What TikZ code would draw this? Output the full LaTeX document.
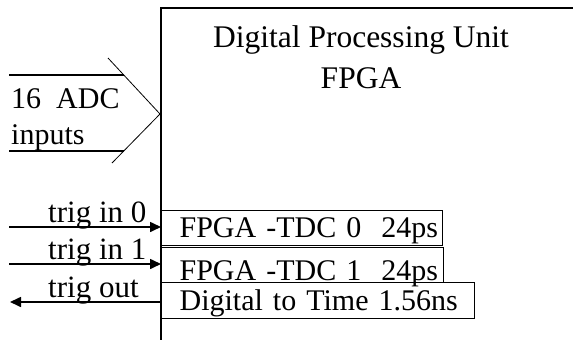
\documentclass[tikz,border=0pt]{standalone}
\usepackage{fontspec}
\setmainfont{Liberation Serif}
\usetikzlibrary{arrows.meta, positioning}

\begin{document}
\begin{tikzpicture}[
  x=1pt, y=-1pt,
  font=\fontsize{30}{36}\selectfont,
  inner sep=0pt,
  tdcbox/.style={draw, line width=1.2pt, anchor=north west, align=left},
  trig/.style={line width=1.6pt},
  triglabel/.style={anchor=base west, font=\fontsize{31}{36}\selectfont},
  >={Triangle[length=11pt,width=10pt]}]

  \useasboundingbox (0,0) rectangle (573,340);

  % the processing unit, cut off at the right and the bottom
  \draw[line width=2pt] (161,340) -- (161,8) -- (573,8);
  \node[anchor=base, font=\fontsize{31.5}{36}\selectfont] (title) at (361,47) {Digital Processing Unit};
  \node[anchor=base, font=\fontsize{31.5}{36}\selectfont] (fpga) at ([yshift=-41pt]title.base) {FPGA};

  % tdc blocks
  \node[tdcbox, text width=281pt, text height=27pt, text depth=8pt] (tdc0) at (161,210)
    {\hspace*{18pt}\mbox{FPGA -TDC 0\ \ 24ps}};
  \node[tdcbox, text width=282pt, text height=33pt, text depth=2pt] (tdc1) at (161,247)
    {\hspace*{18pt}\mbox{FPGA -TDC 1\ \ 24ps}};
  \node[tdcbox, text width=313pt, text height=28pt, text depth=8pt] (d2t) at (161,282)
    {\hspace*{18pt}\mbox{Digital to Time 1.56ns}};

  % adc bus
  \draw[line width=1.8pt] (9,75) -- (124,75);
  \draw[line width=1.8pt] (9,151) -- (124,151);
  \draw[line width=0.8pt] (108,58) -- (160,114) -- (112,163);
  \node[anchor=base west] (adc) at (11,108) {16\ \ ADC};
  \node[anchor=base west] (inputs) at (11,144) {inputs};

  % trigger lines
  \coordinate (in0) at (9,227);
  \coordinate (in1) at (9,264);
  \coordinate (tout) at (10,302);
  \draw[trig, ->] (in0) -- (in0 -| tdc0.west);
  \draw[trig, ->] (in1) -- (in1 -| tdc1.west);
  \draw[trig, ->] (tout -| d2t.west) -- (tout);
  \node[triglabel] (lin0) at (48,222) {trig in 0};
  \node[triglabel] (lin1) at (48,259) {trig in 1};
  \node[triglabel] (lout) at (48,297) {trig out};
\end{tikzpicture}
\end{document}
